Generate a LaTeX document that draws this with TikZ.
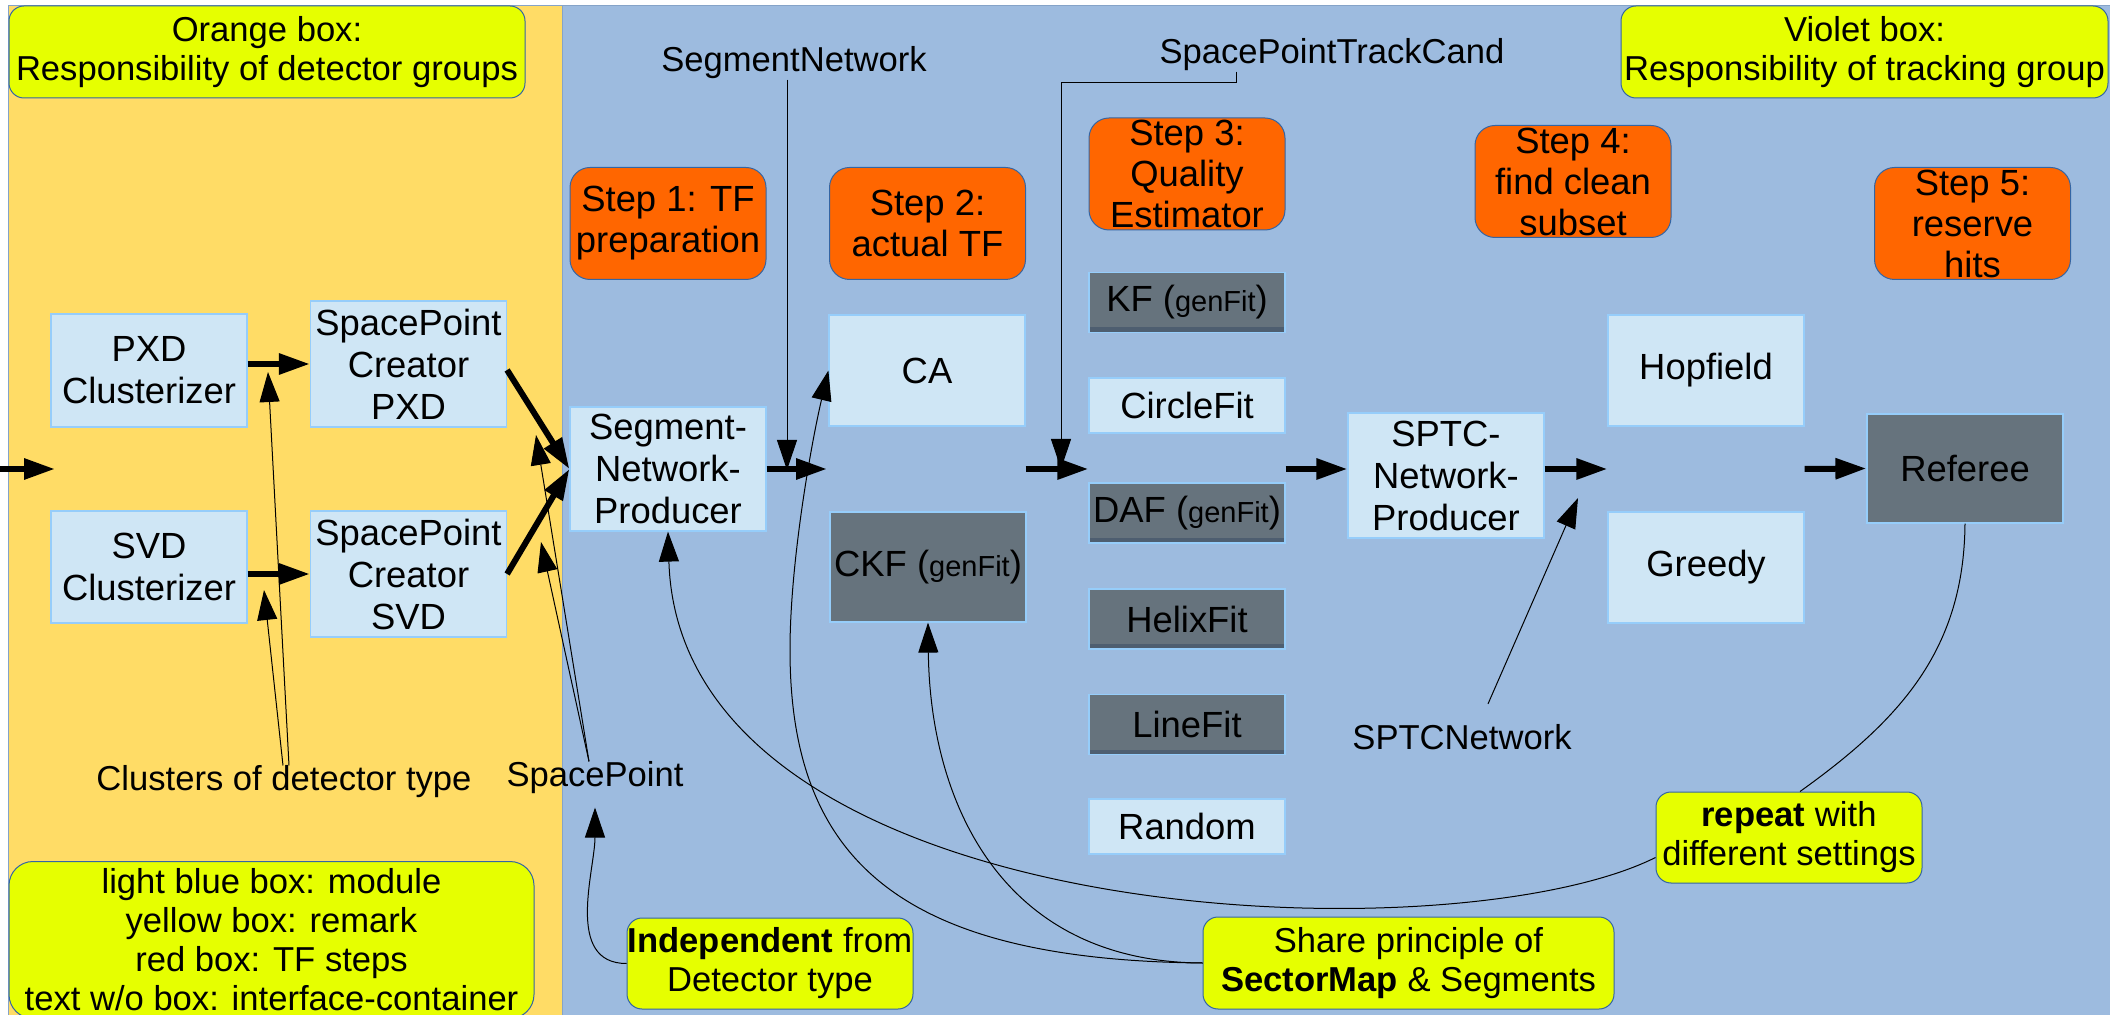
\documentclass[tikz,border=0pt]{standalone}
\usepackage{fontspec}
\setmainfont{Liberation Sans}
\usetikzlibrary{arrows.meta}
\definecolor{orangepanel}{RGB}{255,220,102}
\definecolor{bluepanel}{RGB}{157,187,223}
\definecolor{remarkfill}{RGB}{230,255,0}
\definecolor{stepfill}{RGB}{255,102,0}
\definecolor{edgeblue}{RGB}{52,101,164}
\definecolor{modfill}{RGB}{207,230,245}
\definecolor{modline}{RGB}{150,205,250}
\definecolor{fitfill}{RGB}{102,115,125}
\definecolor{fitstrip}{RGB}{78,94,112}
\newcommand{\genfit}{{\fontsize{14.5}{16}\selectfont genFit}}
\begin{document}
\begin{tikzpicture}[x=0.5pt, y=-0.5pt, every node/.style = {align=center, inner sep=0pt, font=\fontsize{17.3}{19.5}\selectfont}]
	\tikzset{
		remark/.style = {shape=rectangle, rounded corners=7.5pt, draw=edgeblue, line width=0.5pt, fill=remarkfill},
		tfstep/.style = {shape=rectangle, rounded corners=10pt, draw=edgeblue, line width=0.5pt, fill=stepfill, minimum width=98pt, minimum height=56pt, font=\fontsize{18.2}{20.5}\selectfont},
		module/.style = {shape=rectangle, draw=modline, line width=0.6pt, fill=modfill, minimum width=98pt, font=\fontsize{18.2}{21}\selectfont},
		darkmodule/.style = {module, fill=fitfill},
		fitter/.style = {darkmodule, path picture={\fill[fitstrip] (path picture bounding box.south west) rectangle ([yshift=2.5pt]path picture bounding box.south east);}},
		flow/.style = {line width=3pt, -{Triangle[length=15.5pt,width=10pt]}},
		feed/.style = {line width=0.5pt, -{Triangle[length=15pt,width=10pt]}},
		link/.style = {line width=0.5pt}
	}
	\useasboundingbox (0,0) rectangle (2110,1015);
	\clip (0,0) rectangle (2110,1015);
	\fill[orangepanel] (8,6) rectangle (562,1020);
	\fill[bluepanel] (562,6) rectangle (2112,1020);
	\draw[edgeblue!60, line width=0.5pt] (8,1020) |- (2112,6) (562,6) -- (562,1020);

	\node [remark, minimum width=258pt, minimum height=46pt] (orangenote) at (267,52) {Orange box:\\Responsibility of detector groups};
	\node [remark, minimum width=243.5pt, minimum height=46pt] (violetnote) at (1864.5,52) {Violet box:\\Responsibility of tracking group};

	\node [tfstep] (step1) at (668,223.5) {Step 1: TF\\preparation};
	\node [tfstep] (step2) at (927.5,223.5) {Step 2:\\actual TF};
	\node [tfstep] (step3) at (1187,174) {Step 3:\\Quality\\Estimator};
	\node [tfstep] (step4) at (1573,181.5) {Step 4:\\find clean\\subset};
	\node [tfstep] (step5) at (1972.5,223.5) {Step 5:\\reserve\\hits};

	\node [module, minimum height=56.5pt] (pxdclus) at (149,370.5) {PXD\\Clusterizer};
	\node [module, minimum height=56pt] (svdclus) at (149,567) {SVD\\Clusterizer};
	\node [module, minimum height=63pt] (sppxd) at (408.5,364) {SpacePoint\\Creator\\PXD};
	\node [module, minimum height=63pt] (spsvd) at (408.5,574) {SpacePoint\\Creator\\SVD};
	\node [module, minimum height=62pt] (snp) at (668,469) {Segment-\\Network-\\Producer};
	\node [module, minimum height=55.5pt] (ca) at (927,370.5) {CA};
	\node [darkmodule, minimum height=55pt] (ckf) at (928,567) {CKF (\genfit)};
	\node [fitter, minimum height=30pt] (kf) at (1187,302.5) {KF (\genfit)};
	\node [module, minimum height=27.5pt] (circlefit) at (1187,405.5) {CircleFit};
	\node [fitter, minimum height=30pt] (daf) at (1187,513) {DAF (\genfit)};
	\node [fitter, minimum height=30pt] (helixfit) at (1187,619) {HelixFit};
	\node [fitter, minimum height=30pt] (linefit) at (1187,724.5) {LineFit};
	\node [module, minimum height=27.5pt] (random) at (1187,826.5) {Random};
	\node [module, minimum height=62.5pt] (sptcnp) at (1446,475.5) {SPTC-\\Network-\\Producer};
	\node [module, minimum height=55.5pt] (hopfield) at (1706,370.5) {Hopfield};
	\node [module, minimum height=55.5pt] (greedy) at (1706,567.5) {Greedy};
	\node [darkmodule, minimum height=54.5pt] (referee) at (1965,468.5) {Referee};

	\node [remark, rounded corners=12pt, minimum width=262.5pt, minimum height=78.5pt] (legend) at (271.5,940) {light blue box: module\\yellow box: remark\\red box: TF steps\\text w/o box: interface-container};
	\node [remark, minimum width=143pt, minimum height=45.5pt] (indep) at (770,963.5) {\textbf{Independent} from\\Detector type};
	\node [remark, minimum width=205.5pt, minimum height=46pt] (share) at (1408.5,963) {Share principle of\\\textbf{SectorMap} \& Segments};
	\node [remark, minimum width=133pt, minimum height=45.5pt] (repeat) at (1789,837.5) {\textbf{repeat} with\\different settings};

	\node (segnet) at (794,63) {SegmentNetwork};
	\node (sptc) at (1332,55) {SpacePointTrackCand};
	\node (clusters) at (284,782) {Clusters of detector type};
	\node (spacepoint) at (595,778) {SpacePoint};
	\node (sptcnet) at (1462,737) {SPTCNetwork};

	\coordinate (entry) at (0,469);
	\coordinate (entryend) at (55,469);
	\coordinate (snpout) at (827,469);
	\coordinate (snpjoin) at (787,470);
	\coordinate (qebend) at (1236,83);
	\coordinate (qejoin) at (1061,469);
	\coordinate (pxdtip) at (268,372);
	\coordinate (svdtip) at (264,590);
	\coordinate (sppxdtip) at (536,435);
	\coordinate (spsvdtip) at (541,542);
	\coordinate (sptctip) at (1578,498);

	\draw [flow] (entry) -- (entryend);
	\draw [flow] (sppxd.west -| pxdclus.east) -- (sppxd.west);
	\draw [flow] (spsvd.west -| svdclus.east) -- (spsvd.west);
	\draw [flow] ([yshift=-3pt]sppxd.east) -- (snp.west);
	\draw [flow] (spsvd.east) -- (snp.west);
	\draw [flow] (snp.east) -- (snpout);
	\draw [flow] (ca.east |- snp.east) -- (daf.west |- snp.east);
	\draw [flow] (daf.east |- snp.east) -- (sptcnp.west |- snp.east);
	\draw [flow] (sptcnp.east |- snp.east) -- (hopfield.west |- snp.east);
	\draw [flow] (hopfield.east |- snp.east) -- (referee.west);

	\draw [feed] (segnet.south -| snpjoin) -- (snpjoin);
	\draw [feed] (sptc.south -| qebend) -- (qebend) -| (qejoin);
	\draw [feed] ([xshift=2.5pt]clusters.north) -- (pxdtip);
	\draw [feed] ([xshift=-0.5pt]clusters.north) -- (svdtip);
	\draw [feed] ([xshift=-3pt]spacepoint.north) -- (sppxdtip);
	\draw [feed] ([xshift=-3pt]spacepoint.north) -- (spsvdtip);
	\draw [feed] (indep.west) to[out=180, in=-90] ([yshift=-6.5pt]spacepoint.south);
	\draw [feed] ([xshift=13pt, yshift=10pt]sptcnet.north) -- (sptctip);
	\draw [feed] ([yshift=-10pt]repeat.west) .. controls (1450,960) and (680,930) .. (snp.south);
	\draw [feed] (share.west) .. controls (900,960) and (790,860) .. (790,650) .. controls (790,560) and (812,440) .. (ca.west);
	\draw [feed] (share.west) .. controls (1000,962) and (930,800) .. (ckf.south);
	\draw [link] (referee.south) .. controls (1964,650) and (1900,720) .. ([xshift=5.5pt]repeat.north);
\end{tikzpicture}
\end{document}
